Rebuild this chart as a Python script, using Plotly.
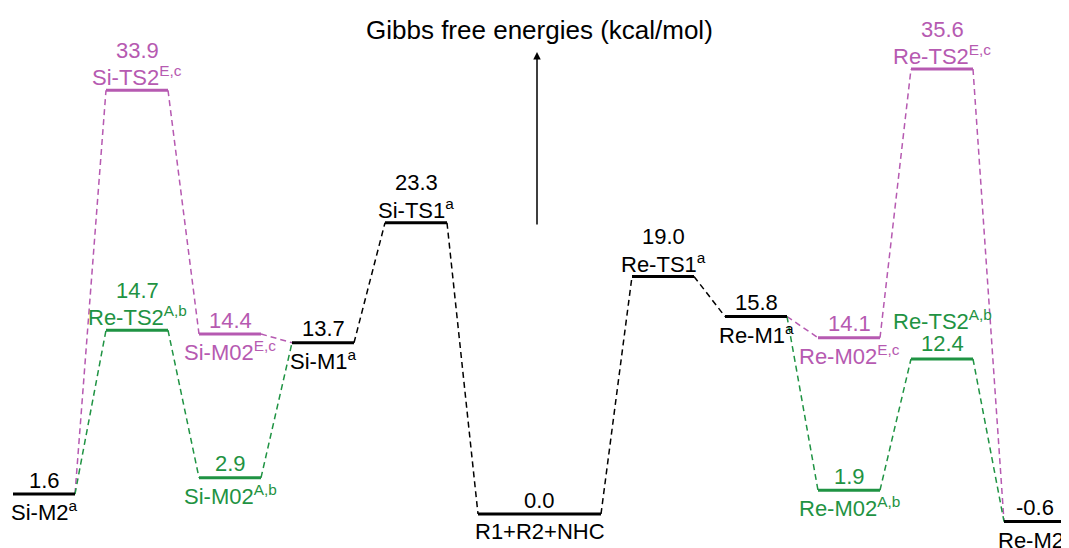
import plotly.graph_objects as go

# ---- data ----
state_names = ["Si-M2<sup>a</sup>", "Si-TS2<sup>E,c</sup>", "Re-TS2<sup>A,b</sup>",
               "Si-M02<sup>E,c</sup>", "Si-M02<sup>A,b</sup>", "Si-M1<sup>a</sup>",
               "Si-TS1<sup>a</sup>", "R1+R2+NHC", "Re-TS1<sup>a</sup>", "Re-M1<sup>a</sup>",
               "Re-M02<sup>E,c</sup>", "Re-M02<sup>A,b</sup>", "Re-TS2<sup>A,b</sup>",
               "Re-TS2<sup>E,c</sup>", "Re-M2<sup>a</sup>"]
energies = [1.6, 33.9, 14.7, 14.4, 2.9, 13.7, 23.3, 0.0, 19.0, 15.8, 14.1, 1.9, 12.4, 35.6, -0.6]
pathway = ["a", "E", "A", "E", "A", "a", "a", "a", "a", "a", "E", "A", "A", "E", "a"]
slot = [0, 1, 1, 2, 2, 3, 4, 5, 6, 7, 8, 8, 9, 9, 10]
# connections (from state index, to state index, pathway)
connections = [
    (0, 1, "E"), (1, 3, "E"), (3, 5, "E"), (9, 10, "E"), (10, 13, "E"), (13, 14, "E"),
    (0, 2, "A"), (2, 4, "A"), (4, 5, "A"), (9, 11, "A"), (11, 12, "A"), (12, 14, "A"),
    (5, 6, "a"), (6, 7, "a"), (7, 8, "a"), (8, 9, "a"),
]
title_text = "Gibbs free energies (kcal/mol)"

# ---- styles / layout ----
colors = {"a": "#000000", "E": "#b65ab1", "A": "#1f9343"}
label_mode = ["below", "top", "top", "below", "below", "below", "top", "below", "top",
              "below", "below", "below", "swap", "top", "below"]
slot_width = {5: 123}
default_w, gap, start = 62, 31, 13
slot_left = {}
xcur = start
for s in range(11):
    slot_left[s] = xcur
    xcur += slot_width.get(s, default_w) + gap


def xl(i):
    return slot_left[slot[i]]


def xr(i):
    return slot_left[slot[i]] + slot_width.get(slot[i], default_w)


fig = go.Figure()

# connectors
for a, b, p in connections:
    fig.add_trace(go.Scatter(
        x=[xr(a), xl(b)], y=[energies[a], energies[b]], mode="lines",
        line=dict(color=colors[p], width=1.5, dash="6px,4px"),
        hoverinfo="skip", showlegend=False))

# levels
for i in range(len(energies)):
    fig.add_trace(go.Scatter(
        x=[xl(i), xr(i)], y=[energies[i], energies[i]], mode="lines",
        line=dict(color=colors[pathway[i]], width=3),
        hoverinfo="skip", showlegend=False))

font = "Liberation Sans, Arial, sans-serif"
offsets = {"below": (14, -17), "top": (40, 14), "swap": (16, 39)}
for i in range(len(energies)):
    cx = (xl(i) + xr(i)) / 2
    vs, ns = offsets[label_mode[i]]
    col = colors[pathway[i]]
    fig.add_annotation(x=cx, y=energies[i], xref="x", yref="y", text=f"{energies[i]:.1f}",
                       showarrow=False, yshift=vs, yanchor="middle",
                       font=dict(family=font, size=22, color=col))
    fig.add_annotation(x=cx, y=energies[i], xref="x", yref="y", text=state_names[i],
                       showarrow=False, yshift=ns, yanchor="middle",
                       font=dict(family=font, size=22, color=col))

# page body has an 8px margin: figure is 1061x540 and placed at (8, 8)
W, H, OFF = 1061, 540, 8
Y0, SCALE = 514, 12.5   # page pixel of 0 kcal/mol, pixels per kcal/mol
fig.add_annotation(x=(539 - OFF) / W, y=1 - (30 - OFF) / H, xref="paper", yref="paper",
                   text=title_text, showarrow=False, yanchor="middle",
                   font=dict(family=font, size=26, color="#000000"))
fig.add_annotation(x=(537 - OFF) / W, y=1 - (52 - OFF) / H, xref="paper", yref="paper", text="",
                   showarrow=True, ax=0, ay=174, axref="pixel", ayref="pixel",
                   arrowhead=2, arrowsize=1, arrowwidth=1.5, arrowcolor="#000000")

fig.update_layout(
    width=W, height=H, margin=dict(l=0, r=0, t=0, b=0),
    paper_bgcolor="white", plot_bgcolor="white",
    xaxis=dict(range=[OFF, OFF + W], visible=False, fixedrange=True),
    yaxis=dict(range=[(Y0 - OFF - H) / SCALE, (Y0 - OFF) / SCALE], visible=False, fixedrange=True),
)
fig.write_html("out.html")
